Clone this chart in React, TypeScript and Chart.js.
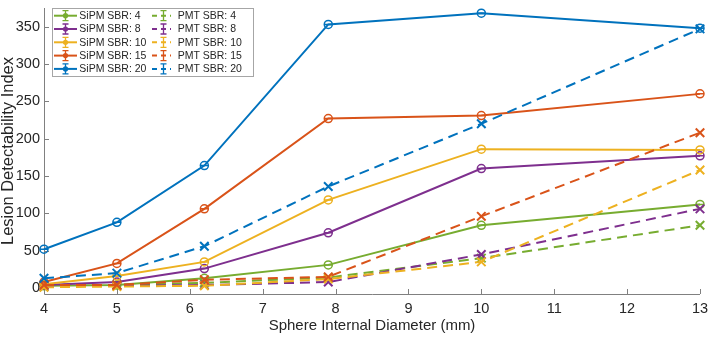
import React, { useEffect, useRef } from "react";
import { Chart, registerables } from "chart.js";

Chart.register(...registerables);

const diameters = [4, 5, 6.2, 7.9, 10, 13];
const sipm4 = [3, 4, 13, 31, 84, 112];
const sipm8 = [4, 8, 26, 74, 160, 177];
const sipm10 = [5, 16, 35, 118, 186, 185];
const sipm15 = [8, 33, 106, 227, 231, 260];
const sipm20 = [52, 88, 164, 353, 368, 348];
const pmt4 = [2, 4, 7, 14, 40, 84];
const pmt8 = [2, 3, 4, 8, 45, 106];
const pmt10 = [1, 2, 3, 12, 35, 158];
const pmt15 = [4, 4, 11, 15, 96, 208];
const pmt20 = [13, 20, 56, 136, 220, 347];

const xTicks = [4, 5, 6, 7, 8, 9, 10, 11, 12, 13];
const yTicks = [0, 50, 100, 150, 200, 250, 300, 350];

const sbrLabels = ["4", "8", "10", "15", "20"];
const colors = ["#77AC30", "#7E2F8E", "#EDB120", "#D95319", "#0072BD"];

const FONT = '"Liberation Sans", Arial, Helvetica, sans-serif';
const TEXT = "#262626";
const AXIS = "#808080";

const sipmSeries = [sipm4, sipm8, sipm10, sipm15, sipm20];
const pmtSeries = [pmt4, pmt8, pmt10, pmt15, pmt20];

const toPts = (vals: number[]) => vals.map((v, i) => ({ x: diameters[i], y: v }));

const axesPlugin = {
  id: "matlabAxes",
  beforeDatasetsDraw(chart: any) {
    const { ctx, chartArea, scales } = chart;
    const xs = scales.x;
    const ys = scales.y;
    ctx.save();
    ctx.strokeStyle = AXIS;
    ctx.lineWidth = 1;
    ctx.beginPath();
    ctx.moveTo(chartArea.left + 0.5, chartArea.top);
    ctx.lineTo(chartArea.left + 0.5, chartArea.bottom + 0.5);
    ctx.lineTo(chartArea.right, chartArea.bottom + 0.5);
    ctx.stroke();
    ctx.beginPath();
    xTicks.forEach((t) => {
      const px = Math.round(xs.getPixelForValue(t)) + 0.5;
      ctx.moveTo(px, chartArea.bottom);
      ctx.lineTo(px, chartArea.bottom - 5);
    });
    yTicks.forEach((t) => {
      const py = Math.round(ys.getPixelForValue(t)) + 0.5;
      ctx.moveTo(chartArea.left, py);
      ctx.lineTo(chartArea.left + 5, py);
    });
    ctx.stroke();
    ctx.restore();
  },
};

const capsPlugin = {
  id: "errCaps",
  afterDatasetDraw(chart: any, args: any) {
    if (args.index >= 5) return;
    const { ctx } = chart;
    const ds = chart.data.datasets[args.index];
    ctx.save();
    ctx.strokeStyle = ds.borderColor;
    ctx.lineWidth = 1.5;
    ctx.beginPath();
    args.meta.data.forEach((el: any) => {
      ctx.moveTo(el.x - 4, el.y);
      ctx.lineTo(el.x + 4, el.y);
    });
    ctx.stroke();
    ctx.restore();
  },
};

const legendPlugin = {
  id: "boxLegend",
  afterDraw(chart: any) {
    const { ctx } = chart;
    const left = 52.5;
    const top = 8.5;
    const right = 253.5;
    const bottom = 76.5;
    ctx.save();
    ctx.fillStyle = "#ffffff";
    ctx.fillRect(left, top, right - left, bottom - top);
    ctx.strokeStyle = "#a6a6a6";
    ctx.lineWidth = 1;
    ctx.strokeRect(left, top, right - left, bottom - top);
    ctx.font = `10.5px ${FONT}`;
    ctx.textBaseline = "middle";
    ctx.textAlign = "left";
    for (let k = 0; k < 5; k++) {
      const y = 15.7 + 13.3 * k;
      const c = colors[k];
      // SiPM entry
      ctx.strokeStyle = c;
      ctx.fillStyle = c;
      ctx.lineWidth = 2;
      ctx.setLineDash([]);
      ctx.beginPath();
      ctx.moveTo(54, y);
      ctx.lineTo(77, y);
      ctx.stroke();
      ctx.lineWidth = 1.3;
      ctx.beginPath();
      ctx.moveTo(65.5, y - 5);
      ctx.lineTo(65.5, y + 5);
      ctx.moveTo(62.5, y - 5);
      ctx.lineTo(68.5, y - 5);
      ctx.moveTo(62.5, y + 5);
      ctx.lineTo(68.5, y + 5);
      ctx.stroke();
      ctx.beginPath();
      ctx.arc(65.5, y, 2.6, 0, Math.PI * 2);
      ctx.fill();
      ctx.fillStyle = TEXT;
      ctx.fillText(`SiPM SBR: ${sbrLabels[k]}`, 79.3, y + 0.5);
      // PMT entry
      ctx.strokeStyle = c;
      ctx.lineWidth = 2;
      ctx.setLineDash([5, 4]);
      ctx.beginPath();
      ctx.moveTo(152, y);
      ctx.lineTo(171, y);
      ctx.stroke();
      ctx.setLineDash([]);
      ctx.lineWidth = 1.3;
      ctx.beginPath();
      ctx.moveTo(163.5, y - 5);
      ctx.lineTo(163.5, y + 5);
      ctx.moveTo(160.5, y - 5);
      ctx.lineTo(166.5, y - 5);
      ctx.moveTo(160.5, y + 5);
      ctx.lineTo(166.5, y + 5);
      ctx.stroke();
      ctx.fillStyle = TEXT;
      ctx.fillText(`PMT SBR: ${sbrLabels[k]}`, 177.7, y + 0.5);
    }
    ctx.restore();
  },
};

export default function App() {
  const ref = useRef<HTMLCanvasElement | null>(null);

  useEffect(() => {
    document.body.style.margin = "0";
    const canvas = ref.current;
    if (!canvas) return;

    const datasets: any[] = [];
    sipmSeries.forEach((vals, k) => {
      datasets.push({
        label: `SiPM SBR: ${sbrLabels[k]}`,
        data: toPts(vals),
        borderColor: colors[k],
        backgroundColor: "rgba(255,255,255,0)",
        borderWidth: 2,
        pointStyle: "circle",
        pointRadius: 4,
        pointBorderWidth: 1.5,
        pointBackgroundColor: "rgba(255,255,255,0)",
        pointBorderColor: colors[k],
        tension: 0,
        clip: false,
        order: 100 - k,
      });
    });
    pmtSeries.forEach((vals, k) => {
      datasets.push({
        label: `PMT SBR: ${sbrLabels[k]}`,
        data: toPts(vals),
        borderColor: colors[k],
        backgroundColor: "rgba(255,255,255,0)",
        borderWidth: 2,
        borderDash: [10, 6],
        pointStyle: "crossRot",
        pointRadius: 6,
        pointBorderWidth: 2,
        pointBorderColor: colors[k],
        tension: 0,
        clip: false,
        order: 50 - k,
      });
    });

    const chart = new Chart(canvas, {
      type: "line",
      data: { datasets },
      plugins: [axesPlugin, capsPlugin, legendPlugin],
      options: {
        animation: false,
        responsive: false,
        devicePixelRatio: 1,
        layout: { padding: { top: 1, right: 8, left: 0, bottom: 0 } },
        plugins: { legend: { display: false }, tooltip: { enabled: false } },
        scales: {
          x: {
            type: "linear",
            min: 4,
            max: 13,
            grid: { display: false, drawTicks: false },
            border: { display: false },
            afterBuildTicks: (s: any) => {
              s.ticks = xTicks.map((v) => ({ value: v }));
            },
            afterFit: (s: any) => {
              s.height = 43;
              s.paddingLeft = 0;
              s.paddingRight = 0;
            },
            ticks: {
              color: TEXT,
              font: { family: FONT, size: 14.5 },
              padding: 6,
              maxRotation: 0,
              autoSkip: false,
              callback: (v: any) => String(v),
            },
            title: {
              display: true,
              text: "Sphere Internal Diameter (mm)",
              color: TEXT,
              font: { family: FONT, size: 15 },
              padding: { top: 0, bottom: 2 },
            },
          },
          y: {
            type: "linear",
            min: -8,
            max: 375,
            grid: { display: false, drawTicks: false },
            border: { display: false },
            afterBuildTicks: (s: any) => {
              s.ticks = yTicks.map((v) => ({ value: v }));
            },
            afterFit: (s: any) => {
              s.width = 44;
              s.paddingTop = 0;
              s.paddingBottom = 0;
            },
            ticks: {
              color: TEXT,
              font: { family: FONT, size: 14.5 },
              padding: 4,
              autoSkip: false,
              callback: (v: any) => String(v),
            },
            title: {
              display: true,
              text: "Lesion Detectability Index",
              color: TEXT,
              font: { family: FONT, size: 16.5, lineHeight: 1.05 },
              padding: { top: 0, bottom: 0 },
            },
          },
        },
      } as any,
    });

    return () => chart.destroy();
  }, []);

  return (
    <div style={{ width: 708, height: 337 }}>
      <canvas ref={ref} width={708} height={337} style={{ display: "block" }} />
    </div>
  );
}
